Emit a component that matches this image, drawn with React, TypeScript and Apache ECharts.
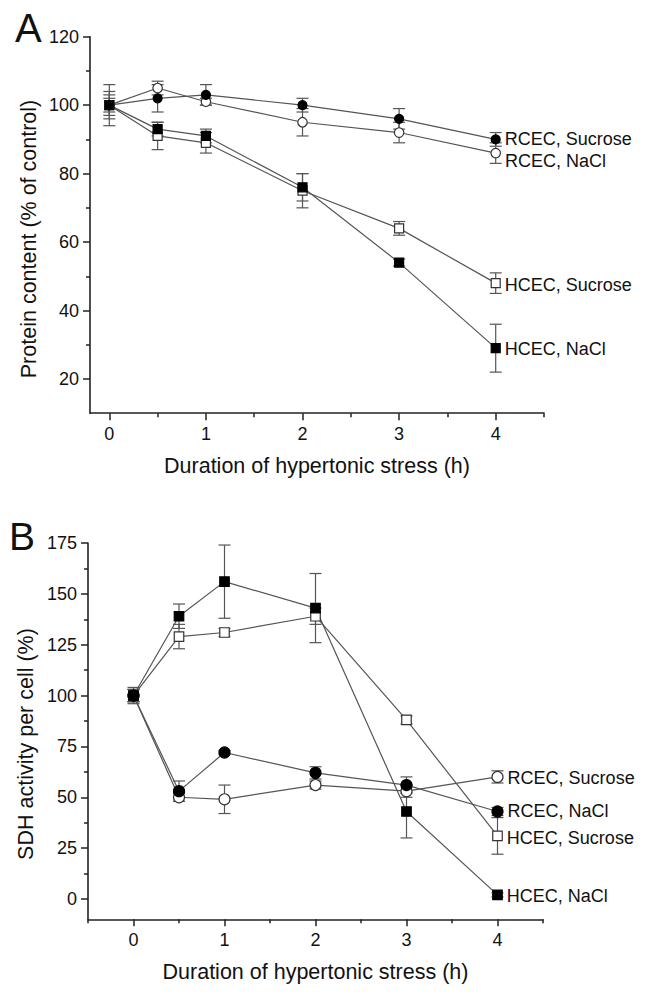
import React, { useEffect, useRef } from "react";
import * as echarts from "echarts";

const times = [0, 0.5, 1, 2, 3, 4];
const majorTicks = [0, 1, 2, 3, 4];
const minorTicksA = [0.5, 1.5, 2.5, 3.5, 4.5];
const minorTicksB = [-0.5, 0.5, 1.5, 2.5, 3.5, 4.5];
const yTicksA = [20, 40, 60, 80, 100, 120];
const yMinorA = [30, 50, 70, 90, 110];
const yTicksB = [0, 25, 50, 75, 100, 125, 150, 175];
const yMinorB = [-12.5, 12.5, 37.5, 62.5, 87.5, 112.5, 137.5, 162.5];

const xTitle = "Duration of hypertonic stress (h)";
const yTitleA = "Protein content (% of control)";
const yTitleB = "SDH activity per cell (%)";

// Panel A: protein content (% of control)
const aRcecSucrose = [100, 102, 103, 100, 96, 90];
const aRcecSucroseErr = [2, 4, 3, 2, 3, 2];
const aRcecNacl = [100, 105, 101, 95, 92, 86];
const aRcecNaclErr = [6, 2, 1, 4, 3, 3];
const aHcecSucrose = [100, 91, 89, 75, 64, 48];
const aHcecSucroseErr = [3, 4, 3, 5, 2, 3];
const aHcecNacl = [100, 93, 91, 76, 54, 29];
const aHcecNaclErr = [4, 2, 2, 4, 1, 7];

// Panel B: SDH activity per cell (%)
const bRcecSucrose = [100, 50, 49, 56, 53, 60];
const bRcecSucroseErr = [3, 2, 7, 2, 3, 3];
const bRcecNacl = [100, 53, 72, 62, 56, 43];
const bRcecNaclErr = [3, 5, 1, 3, 4, 2];
const bHcecSucrose = [100, 129, 131, 139, 88, 31];
const bHcecSucroseErr = [4, 6, 2, 4, 2, 9];
const bHcecNacl = [100, 139, 156, 143, 43, 2];
const bHcecNaclErr = [3, 6, 18, 17, 13, 1];

const FONT = "'Liberation Sans', Arial, Helvetica, sans-serif";
const AXIS = "#222";
const LINE = "#555";

function xAxes(grid: number, min: number, minor: number[], name: string, nameGap: number) {
  return [
    {
      gridIndex: grid,
      type: "value",
      min,
      max: 4.5,
      position: "bottom",
      axisLine: { show: true, onZero: false, lineStyle: { color: AXIS, width: 1.6 } },
      axisTick: { show: true, customValues: majorTicks, length: 7, lineStyle: { color: AXIS, width: 1.5 } },
      axisLabel: { customValues: majorTicks, fontSize: 18, margin: 12, color: "#111", fontFamily: FONT },
      splitLine: { show: false },
      name,
      nameLocation: "middle",
      nameGap,
      nameTextStyle: { fontSize: 21.5, color: "#111", fontFamily: FONT },
    },
    {
      gridIndex: grid,
      type: "value",
      min,
      max: 4.5,
      position: "bottom",
      axisLine: { show: false, onZero: false },
      axisTick: { show: true, customValues: minor, length: 4, lineStyle: { color: AXIS, width: 1.5 } },
      axisLabel: { show: false },
      splitLine: { show: false },
    },
  ];
}

function yAxes(grid: number, min: number, max: number, major: number[], minor: number[]) {
  return [
    {
      gridIndex: grid,
      type: "value",
      min,
      max,
      position: "left",
      axisLine: { show: true, onZero: false, lineStyle: { color: AXIS, width: 1.6 } },
      axisTick: { show: true, customValues: major, length: 7, lineStyle: { color: AXIS, width: 1.5 } },
      axisLabel: { customValues: major, fontSize: 18, margin: 11, color: "#111", fontFamily: FONT },
      splitLine: { show: false },
    },
    {
      gridIndex: grid,
      type: "value",
      min,
      max,
      position: "left",
      axisLine: { show: false, onZero: false },
      axisTick: { show: true, customValues: minor, length: 4, lineStyle: { color: AXIS, width: 1.5 } },
      axisLabel: { show: false },
      splitLine: { show: false },
    },
  ];
}

function errSeries(axis: number, vals: number[], errs: number[]) {
  return {
    type: "custom",
    xAxisIndex: axis,
    yAxisIndex: axis,
    z: 1,
    silent: true,
    data: times.map((t, i) => [t, vals[i] - errs[i], vals[i] + errs[i]]),
    encode: { x: 0, y: [1, 2] },
    renderItem: (params: any, api: any) => {
      const x = api.value(0);
      const lo = api.coord([x, api.value(1)]);
      const hi = api.coord([x, api.value(2)]);
      const w = 6;
      const style = { stroke: LINE, lineWidth: 1.2 };
      return {
        type: "group",
        children: [
          { type: "line", shape: { x1: lo[0], y1: lo[1], x2: hi[0], y2: hi[1] }, style },
          { type: "line", shape: { x1: lo[0] - w, y1: lo[1], x2: lo[0] + w, y2: lo[1] }, style },
          { type: "line", shape: { x1: hi[0] - w, y1: hi[1], x2: hi[0] + w, y2: hi[1] }, style },
        ],
      };
    },
  };
}

function lineSeries(
  axis: number,
  vals: number[],
  label: string,
  symbol: string,
  filled: boolean,
  size: number,
  dy: number
) {
  return {
    type: "line",
    name: label,
    xAxisIndex: axis,
    yAxisIndex: axis,
    z: 3,
    symbol,
    symbolSize: size,
    showAllSymbol: true,
    lineStyle: { color: LINE, width: 1.2 },
    itemStyle: { color: filled ? "#000" : "#fff", borderColor: filled ? "#000" : "#333", borderWidth: 1.2 },
    data: times.map((t, i) =>
      i === times.length - 1
        ? {
            value: [t, vals[i]],
            label: {
              show: true,
              position: "right",
              distance: 4,
              offset: [0, dy],
              formatter: label,
              fontSize: 18,
              color: "#111",
              fontFamily: FONT,
            },
          }
        : { value: [t, vals[i]] }
    ),
  };
}

export default function App() {
  const ref = useRef<HTMLDivElement>(null);
  useEffect(() => {
    if (!ref.current) return;
    const chart = echarts.init(ref.current, undefined, { renderer: "svg" });
    chart.setOption({
      animation: false,
      backgroundColor: "#fff",
      grid: [
        { left: 90, right: 106, top: 36.7, height: 376.5, outerBoundsMode: "none", containLabel: false },
        { left: 88, right: 107, top: 543, height: 376.3, outerBoundsMode: "none", containLabel: false },
      ],
      xAxis: [
        ...xAxes(0, -0.2, minorTicksA, xTitle, 42),
        ...xAxes(1, -0.5, minorTicksB, xTitle, 42),
      ],
      yAxis: [
        ...yAxes(0, 10, 120, yTicksA, yMinorA),
        ...yAxes(1, -10, 175, yTicksB, yMinorB),
      ],
      graphic: [
        { type: "text", x: 15, y: 28, style: { text: "A", fontSize: 40, fontFamily: FONT, fill: "#111", align: "left", verticalAlign: "middle" } },
        { type: "text", x: 9, y: 536, style: { text: "B", fontSize: 39, fontFamily: FONT, fill: "#111", align: "left", verticalAlign: "middle" } },
        { type: "text", x: 29, y: 239, rotation: Math.PI / 2, style: { text: yTitleA, fontSize: 21.5, fontFamily: FONT, fill: "#111", align: "center", verticalAlign: "middle" } },
        { type: "text", x: 26, y: 744, rotation: Math.PI / 2, style: { text: yTitleB, fontSize: 21.5, fontFamily: FONT, fill: "#111", align: "center", verticalAlign: "middle" } },
      ],
      series: [
        errSeries(0, aRcecSucrose, aRcecSucroseErr),
        errSeries(0, aRcecNacl, aRcecNaclErr),
        errSeries(0, aHcecSucrose, aHcecSucroseErr),
        errSeries(0, aHcecNacl, aHcecNaclErr),
        lineSeries(0, aHcecSucrose, "HCEC, Sucrose", "rect", false, 9, 2),
        lineSeries(0, aHcecNacl, "HCEC, NaCl", "rect", true, 9, 1),
        lineSeries(0, aRcecNacl, "RCEC, NaCl", "circle", false, 9.5, 8),
        lineSeries(0, aRcecSucrose, "RCEC, Sucrose", "circle", true, 9, 0),
        errSeries(2, bRcecSucrose, bRcecSucroseErr),
        errSeries(2, bRcecNacl, bRcecNaclErr),
        errSeries(2, bHcecSucrose, bHcecSucroseErr),
        errSeries(2, bHcecNacl, bHcecNaclErr),
        lineSeries(2, bHcecSucrose, "HCEC, Sucrose", "rect", false, 9.5, 2),
        lineSeries(2, bHcecNacl, "HCEC, NaCl", "rect", true, 9.5, 1),
        lineSeries(2, bRcecSucrose, "RCEC, Sucrose", "circle", false, 11, 1),
        lineSeries(2, bRcecNacl, "RCEC, NaCl", "circle", true, 11, 0),
      ],
    });
    return () => chart.dispose();
  }, []);
  return <div ref={ref} style={{ position: "absolute", left: 0, top: 0, width: 650, height: 1001 }} />;
}
